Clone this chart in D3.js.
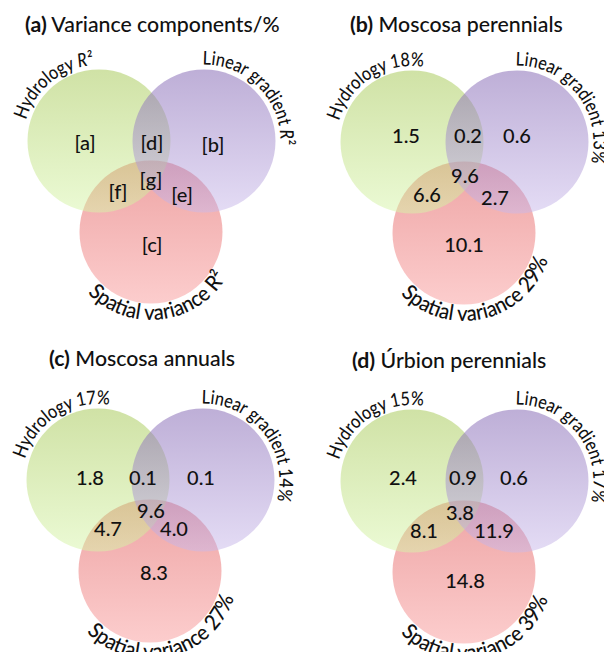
<!DOCTYPE html>
<html>
<head>
<meta charset="utf-8">
<script src="https://cdn.jsdelivr.net/npm/d3@7"></script>
<style>
  html, body { margin: 0; padding: 0; background: #fff; }
  svg { display: block; font-family: Lato, "Open Sans", sans-serif; }
</style>
</head>
<body>
<script>
// ---- data ----
const panelLetters = ["(a)", "(b)", "(c)", "(d)"];
const panelTitles = ["Variance components/%", "Moscosa perennials", "Moscosa annuals", "Úrbion perennials"];
const setNames = ["Hydrology", "Linear gradient", "Spatial variance"];
const hydrologyTotal = [null, 18, 17, 15];
const linearTotal = [null, 13, 14, 17];
const spatialTotal = [null, 29, 27, 39];
const regionKeys = ["a", "b", "c", "d", "e", "f", "g"];
const moscosaPerennials = [1.5, 0.6, 10.1, 0.2, 2.7, 6.6, 9.6];
const moscosaAnnuals = [1.8, 0.1, 8.3, 0.1, 4.0, 4.7, 9.6];
const urbionPerennials = [2.4, 0.6, 14.8, 0.9, 11.9, 8.1, 3.8];
const panelValues = [null, moscosaPerennials, moscosaAnnuals, urbionPerennials];

// ---- layout ----
const W = 604, H = 652;
const R = 71.5;
// origin of each panel = centre of the hydrology circle
const panelOrigin = [[99, 141], [412, 142], [98, 480], [412, 481]];
const titlePos = [[25, 32], [350, 32], [49, 366], [352, 368]];
// circle centres relative to the hydrology circle
const circleOffset = [[0, 0], [105, 0], [52, 91]];
// centre of each region label relative to the hydrology circle, per panel (a..g)
const regionOffset = [
  [[-14, 2], [114, 4], [53, 104], [53, 2], [83, 54], [19, 51], [52, 39]],
  [[-6, -6], [105, -6], [52, 103], [56, -6], [83, 56], [15, 53], [53, 34]],
  [[-8, -2], [103, -2], [56, 93], [45, -2], [76, 49], [10, 49], [53, 31]],
  [[-9, -3], [102, -3], [53, 100], [51, -3], [82, 50], [12, 50], [48, 32]]
];
const fmt = d3.format(".1f");

const svg = d3.select("body").append("svg")
  .attr("width", W).attr("height", H).attr("viewBox", `0 0 ${W} ${H}`);

// vertical gradients: darker at the top, lighter at the bottom
const fills = [
  { id: "gHyd", top: "rgb(161,197,77)", bottom: "rgb(215,245,169)" },
  { id: "gLin", top: "rgb(125,95,175)", bottom: "rgb(201,185,235)" },
  { id: "gSpa", top: "rgb(221,75,75)", bottom: "rgb(249,155,155)" }
];
const defs = svg.append("defs");
fills.forEach(f => {
  const lg = defs.append("linearGradient").attr("id", f.id)
    .attr("x1", 0).attr("y1", 0).attr("x2", 0).attr("y2", 1);
  lg.append("stop").attr("offset", "0%").attr("stop-color", f.top);
  lg.append("stop").attr("offset", "100%").attr("stop-color", f.bottom);
});

const rad = d => d * Math.PI / 180;
// point on a circle; angle measured clockwise from the top
const onCircle = (cx, cy, r, deg) => [cx + r * Math.sin(rad(deg)), cy - r * Math.cos(rad(deg))];
function arcPath(cx, cy, r, a0, a1, sweep) {
  const p0 = onCircle(cx, cy, r, a0), p1 = onCircle(cx, cy, r, a1);
  const large = Math.abs(a1 - a0) > 180 ? 1 : 0;
  return `M${p0[0]},${p0[1]} A${r},${r} 0 ${large} ${sweep} ${p1[0]},${p1[1]}`;
}

// label arcs: hydrology over the top-left, linear gradient over the top-right,
// spatial variance under the bottom (read left to right, tops towards the circle).
// "squeeze" narrows the set type so it runs tall and compact along the arc.
const labelArcs = [
  { dr: 4.5, a0: -74, a1: 40, sweep: 1, size: 19, squeeze: 0.85 },
  { dr: 5, a0: -1, a1: 160, sweep: 1, size: 19, squeeze: 0.85 },
  { dr: 16.5, a0: 226, a1: 80, sweep: 0, size: 21.5, squeeze: 0.93 }
];

panelLetters.forEach((letter, i) => {
  const [ox, oy] = panelOrigin[i];
  const g = svg.append("g").attr("class", "panel");

  // title
  const t = g.append("text").attr("x", titlePos[i][0]).attr("y", titlePos[i][1])
    .attr("font-size", 21.3).attr("font-weight", 500).attr("fill", "#111");
  t.append("tspan").attr("font-weight", "bold").text(letter);
  t.append("tspan").text(" " + panelTitles[i]);

  // circles: spatial at the bottom, then hydrology, then linear gradient on top
  const centres = circleOffset.map(([dx, dy]) => [ox + dx, oy + dy]);
  [2, 0, 1].forEach(k => {
    g.append("circle").attr("cx", centres[k][0]).attr("cy", centres[k][1]).attr("r", R)
      .attr("fill", `url(#${fills[k].id})`).attr("fill-opacity", 0.5);
  });

  // curved set labels
  const totals = [hydrologyTotal[i], linearTotal[i], spatialTotal[i]];
  labelArcs.forEach((a, k) => {
    const id = `arc${i}_${k}`;
    defs.append("path").attr("id", id)
      .attr("d", arcPath(centres[k][0], centres[k][1], R + a.dr, a.a0, a.a1, a.sweep));
    const txt = g.append("text").attr("font-size", a.size).attr("font-weight", 500)
      .attr("fill", "#111");
    const tp = txt.append("textPath").attr("href", "#" + id);
    tp.append("tspan").text(setNames[k] + " ");
    if (totals[k] == null) {
      tp.append("tspan").attr("font-style", k === 2 ? "normal" : "italic").text("R");
      tp.append("tspan").text("²");
    } else {
      tp.append("tspan").text(totals[k] + "%");
    }
    const natural = txt.node().getComputedTextLength();
    tp.attr("textLength", natural * a.squeeze).attr("lengthAdjust", "spacingAndGlyphs");
  });

  // region labels
  regionKeys.forEach((key, j) => {
    const txt = panelValues[i] == null ? `[${key}]` : fmt(panelValues[i][j]);
    g.append("text")
      .attr("x", ox + regionOffset[i][j][0]).attr("y", oy + regionOffset[i][j][1])
      .attr("text-anchor", "middle").attr("dy", "0.36em")
      .attr("font-size", 20).attr("font-weight", 500).attr("fill", "#111")
      .text(txt);
  });
});
</script>
</body>
</html>
